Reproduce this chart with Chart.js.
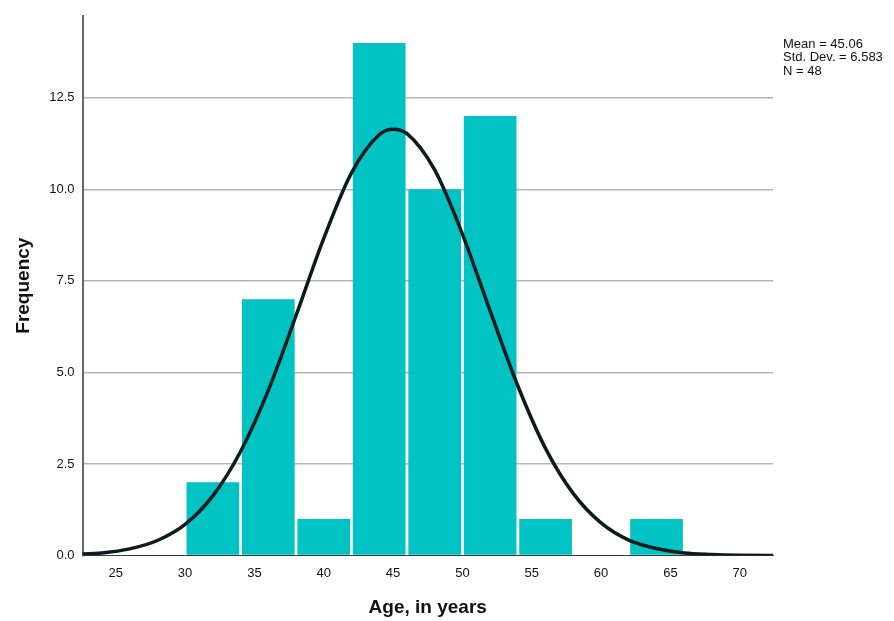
<!DOCTYPE html>
<html>
<head>
<meta charset="utf-8">
<script src="https://cdn.jsdelivr.net/npm/chart.js@4.4.1/dist/chart.umd.min.js"></script>
<style>
  html, body { margin: 0; padding: 0; background: #fff; }
</style>
</head>
<body>
<canvas id="myChart" width="894" height="621"></canvas>
<script>
// histogram bins (centres of 4-year bins) and counts
var binCentres = [32, 36, 40, 44, 48, 52, 56, 60, 64];
var counts     = [2, 7, 1, 14, 10, 12, 1, 0, 1];

// normal curve
var curveX = [22, 24, 26, 28, 30, 32, 34, 36, 38, 40, 42, 44, 45, 46, 48, 50, 52, 54, 56, 58, 60, 62, 64, 66, 68, 70, 73];
var curveY = [0.03, 0.07, 0.18, 0.41, 0.85, 1.63, 2.84, 4.51, 6.55, 8.66, 10.45, 11.49, 11.64, 11.52, 10.53, 8.78, 6.68, 4.63, 2.92, 1.69, 0.89, 0.42, 0.19, 0.07, 0.03, 0.01, 0.0];

var xTicks = [25, 30, 35, 40, 45, 50, 55, 60, 65, 70];
var yTicks = [0, 2.5, 5, 7.5, 10, 12.5];
var statsLines = ["Mean = 45.06", "Std. Dev. = 6.583", "N = 48"];

var fontName = "'Liberation Sans', Arial, sans-serif";

var bars = binCentres.map(function (x, i) { return { x: x, y: counts[i] }; });
var curve = curveX.map(function (x, i) { return { x: x, y: curveY[i] }; });

var statsPlugin = {
	id: 'stats',
	afterDraw: function (chart) {
		var ctx = chart.ctx;
		ctx.save();
		ctx.font = "13px " + fontName;
		ctx.fillStyle = "#111";
		ctx.textAlign = "left";
		ctx.textBaseline = "middle";
		statsLines.forEach(function (t, i) {
			ctx.fillText(t, 783, 44 + i * 13.8);
		});
		ctx.restore();
	}
};

var ctx = document.getElementById("myChart").getContext("2d");

var myChart = new Chart(ctx, {
	data: {
		datasets: [
			{
				type: 'line',
				label: 'Normal',
				data: curve,
				borderColor: '#0c1c1c',
				borderWidth: 3.5,
				pointRadius: 0,
				tension: 0.4,
				cubicInterpolationMode: 'monotone',
				fill: false,
				order: 0
			},
			{
				type: 'bar',
				label: 'Frequency',
				data: bars,
				backgroundColor: '#02c3c3',
				borderWidth: 0,
				barPercentage: 0.95,
				categoryPercentage: 1,
				order: 1
			}
		]
	},
	options: {
		responsive: false,
		animation: false,
		layout: { padding: { top: 11, right: 121, left: 0, bottom: 0 } },
		plugins: {
			legend: { display: false },
			tooltip: { enabled: false }
		},
		scales: {
			x: {
				type: 'linear',
				min: 22.6,
				max: 72.4,
				offset: false,
				afterFit: function (s) { s.height = 65.5; },
				afterBuildTicks: function (s) { s.ticks = xTicks.map(function (v) { return { value: v }; }); },
				ticks: { font: { size: 13, family: fontName }, color: '#111', padding: 10, maxRotation: 0 },
				grid: { display: false, drawTicks: false, offset: false },
				border: { display: true, color: '#3a3a3a', width: 1 },
				title: {
					display: true,
					text: 'Age, in years',
					font: { size: 19, weight: 'bold', family: fontName },
					color: '#111',
					padding: { top: 0, bottom: 2 }
				}
			},
			y: {
				min: 0,
				max: 14.74,
				afterFit: function (s) { s.width = 82.5; },
				afterBuildTicks: function (s) { s.ticks = yTicks.map(function (v) { return { value: v }; }); },
				ticks: {
					font: { size: 13, family: fontName },
					color: '#111',
					padding: 8,
					callback: function (v) { return v.toFixed(1); }
				},
				grid: {
					drawTicks: false,
					lineWidth: 1.5,
					color: function (c) { return c.tick && c.tick.value === 0 ? 'rgba(0,0,0,0)' : '#b5b5b5'; }
				},
				border: { display: true, color: '#666', width: 2 },
				title: {
					display: true,
					text: 'Frequency',
					font: { size: 19, weight: 'bold', family: fontName },
					color: '#111',
					padding: { top: 12, bottom: 0 }
				}
			}
		}
	},
	plugins: [statsPlugin]
});
</script>
</body>
</html>
